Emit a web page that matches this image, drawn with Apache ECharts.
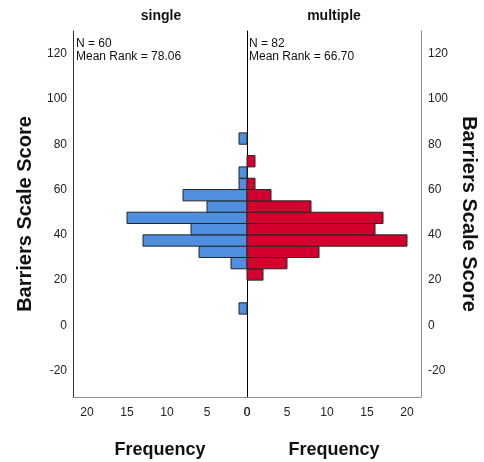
<!DOCTYPE html>
<html>
<head>
<meta charset="utf-8">
<script src="https://cdn.jsdelivr.net/npm/echarts@6/dist/echarts.min.js"></script>
<style>
html,body{margin:0;padding:0;background:#fff;}
#c{width:484px;height:462px;}
</style>
</head>
<body>
<div id="c"></div>
<script>
// Bins: [lower bound, upper bound, frequency]
const groups = ['single', 'multiple'];
const singleBins = [[5,10,1],[25,30,2],[30,35,6],[35,40,13],[40,45,7],[45,50,15],[50,55,5],[55,60,8],[60,65,1],[65,70,1],[80,85,1]];
const multipleBins = [[20,25,2],[25,30,5],[30,35,9],[35,40,20],[40,45,16],[45,50,17],[50,55,8],[55,60,3],[60,65,1],[70,75,1]];
const stats = ['N = 60\nMean Rank = 78.06', 'N = 82\nMean Rank = 66.70'];
const yTicks = [-20, 0, 20, 40, 60, 80, 100, 120];
const xTicks = [0, 5, 10, 15, 20];
const yTitle = 'Barriers Scale Score';
const xTitle = 'Frequency';

const FONT = '"Liberation Sans", Arial, sans-serif';
const Y_MIN = -31.6, Y_MAX = 130, X_MAX = 21.75;

function renderBar(color) {
  return function (params, api) {
    const a = api.coord([0, api.value(0)]);
    const b = api.coord([api.value(2), api.value(1)]);
    return {
      type: 'rect',
      shape: {
        x: Math.min(a[0], b[0]), y: Math.min(a[1], b[1]),
        width: Math.abs(b[0] - a[0]), height: Math.abs(b[1] - a[1])
      },
      style: { fill: color, stroke: '#262626', lineWidth: 1 }
    };
  };
}

const chart = echarts.init(document.getElementById('c'), null, { renderer: 'canvas' });

const xAxisCommon = (grid, inverse) => ({
  type: 'value', gridIndex: grid, min: 0, max: X_MAX, inverse: inverse,
  axisLine: { show: true, onZero: false, lineStyle: { color: '#8c8c8c', width: 1 } },
  axisTick: { show: false },
  splitLine: { show: false },
  axisLabel: { customValues: xTicks, color: '#222', fontSize: 12, fontFamily: FONT, margin: 10 },
  name: xTitle, nameLocation: 'middle', nameGap: 44,
  nameTextStyle: { fontSize: 18, fontWeight: 'bold', color: '#111', fontFamily: FONT }
});

const yAxisCommon = {
  type: 'value', min: Y_MIN, max: Y_MAX,
  axisTick: { show: false },
  splitLine: { show: false }
};

chart.setOption({
  animation: false,
  backgroundColor: '#fff',
  title: [
    { text: groups[0], left: 161, top: 9, padding: 0, textAlign: 'center',
      textStyle: { fontSize: 14, fontWeight: 'bold', color: '#111', fontFamily: FONT } },
    { text: groups[1], left: 334, top: 9, padding: 0, textAlign: 'center',
      textStyle: { fontSize: 14, fontWeight: 'bold', color: '#111', fontFamily: FONT } },
    { text: stats[0], left: 76, top: 37, padding: 0,
      textStyle: { fontSize: 12, fontWeight: 'normal', color: '#111', fontFamily: FONT, lineHeight: 13 } },
    { text: stats[1], left: 249, top: 37, padding: 0,
      textStyle: { fontSize: 12, fontWeight: 'normal', color: '#111', fontFamily: FONT, lineHeight: 13 } }
  ],
  grid: [
    { left: 73, top: 31, width: 174, height: 366, containLabel: false, outerBoundsMode: 'none' },
    { left: 247, top: 31, width: 174, height: 366, containLabel: false, outerBoundsMode: 'none' }
  ],
  xAxis: [ xAxisCommon(0, true), xAxisCommon(1, false) ],
  yAxis: [
    Object.assign({}, yAxisCommon, {
      gridIndex: 0, position: 'left',
      axisLine: { show: true, onZero: false, lineStyle: { color: '#333', width: 1 } },
      axisLabel: { customValues: yTicks, color: '#222', fontSize: 12, fontFamily: FONT, margin: 6 },
      name: yTitle, nameLocation: 'middle', nameRotate: 90, nameGap: 38,
      nameTextStyle: { fontSize: 20, fontWeight: 'bold', color: '#111', fontFamily: FONT }
    }),
    Object.assign({}, yAxisCommon, {
      gridIndex: 1, position: 'right',
      axisLine: { show: true, onZero: false, lineStyle: { color: '#8c8c8c', width: 1 } },
      axisLabel: { customValues: yTicks, color: '#222', fontSize: 12, fontFamily: FONT, margin: 7 },
      name: yTitle, nameLocation: 'middle', nameRotate: -90, nameGap: 38,
      nameTextStyle: { fontSize: 20, fontWeight: 'bold', color: '#111', fontFamily: FONT }
    }),
    Object.assign({}, yAxisCommon, {
      gridIndex: 1, position: 'left',
      axisLine: { show: true, onZero: false, lineStyle: { color: '#000', width: 1 } },
      axisLabel: { show: false }
    })
  ],
  series: [
    { type: 'custom', xAxisIndex: 0, yAxisIndex: 0, data: singleBins,
      encode: { x: 2, y: [0, 1] }, renderItem: renderBar('#4f8fdf'), z: 1 },
    { type: 'custom', xAxisIndex: 1, yAxisIndex: 1, data: multipleBins,
      encode: { x: 2, y: [0, 1] }, renderItem: renderBar('#d3002e'), z: 1 }
  ]
});
</script>
</body>
</html>
